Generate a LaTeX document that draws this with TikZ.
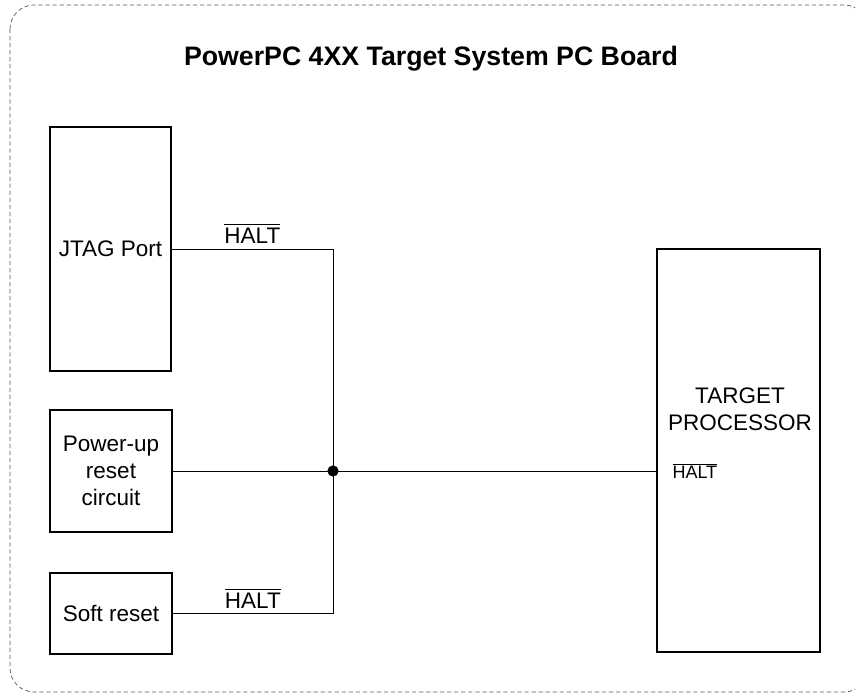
\documentclass[tikz,border=0pt]{standalone}
\usepackage{fontspec}
\setmainfont{Liberation Sans}
\usepackage{amsmath}

\begin{document}
\begin{tikzpicture}[x=0.025cm,y=-0.025cm,
   font=\fontsize{16}{19.2}\selectfont,
   block/.style={draw,line width=1pt,inner sep=0pt,align=center},
   wire/.style={line width=0.7pt}]
   \useasboundingbox (0,0) rectangle (855,694);
   \draw[black!65,dashed,dash pattern=on 3pt off 2pt,line width=0.5pt,rounded corners=0.6cm]
      (10,5) rectangle (868,692);
   \node[font=\bfseries\fontsize{19}{23}\selectfont,anchor=base] (title) at (431,66)
      {PowerPC 4XX Target System PC Board};
   \node[block,minimum width=3.025cm,minimum height=6.1cm] (jtag) at (110.5,249) {JTAG Port};
   \node[block,minimum width=3.05cm,minimum height=3.05cm] (power) at (111,471) {Power-up\\reset\\circuit};
   \node[block,minimum width=3.05cm,minimum height=2.025cm] (soft) at (111,613.5) {Soft reset};
   \node[block,minimum width=4.075cm,minimum height=10.075cm] (target) at (738.5,450.5) {};
   \node[align=center] (tname) at (740,409) {TARGET\\PROCESSOR};
   \coordinate (junc) at (333,471);
   \draw[wire] (jtag.east) -- node[above] {$\overline{\mbox{HALT}}$} (jtag.east -| junc) -- (junc);
   \draw[wire] (soft.east) -- node[above] {$\overline{\mbox{HALT}}$} (soft.east -| junc) -- (junc);
   \draw[wire] (power.east) -- (power.east -| target.west);
   \fill (junc) circle (4pt);
   \node[anchor=west,inner sep=0pt,font=\fontsize{12.8}{15}\selectfont] (thalt)
      at ([xshift=0.4cm]power.east -| target.west) {$\overline{\mbox{HALT}}$};
\end{tikzpicture}
\end{document}
